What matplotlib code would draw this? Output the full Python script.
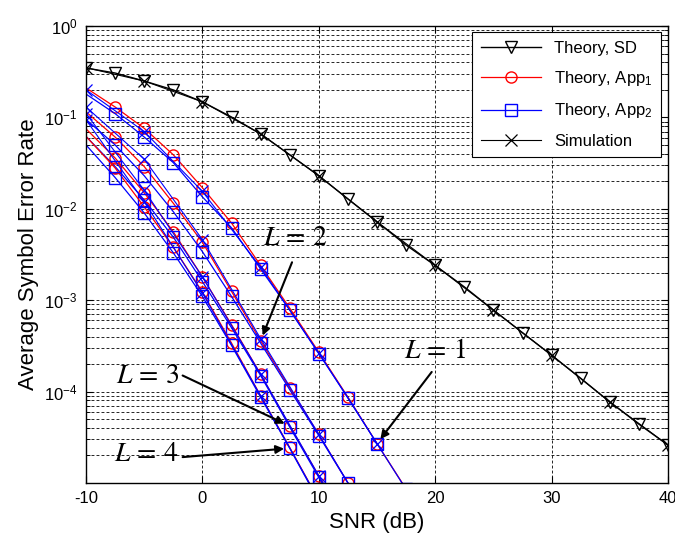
import matplotlib

matplotlib.use("Agg")
import matplotlib.pyplot as plt
import numpy as np

plt.rcParams["font.family"] = ["Liberation Sans", "DejaVu Sans"]
plt.rcParams["mathtext.fontset"] = "custom"
plt.rcParams["mathtext.rm"] = "Liberation Sans"
plt.rcParams["mathtext.it"] = "Liberation Sans:italic"
plt.rcParams["axes.unicode_minus"] = False

# ── data ─────────────────────────────────────────────────────────────────
snr_sd = np.arange(-10, 40.1, 2.5)
ser_sd = [0.347, 0.306, 0.25, 0.2, 0.148, 0.101, 0.066, 0.039, 0.023, 0.0128,
          0.0072, 0.0040, 0.0024, 0.0014, 7.8e-4, 4.4e-4, 2.5e-4, 1.4e-4,
          7.7e-5, 4.4e-5, 2.6e-5]
snr_sd_sim = np.arange(-10, 40.1, 5)
ser_sd_sim = [0.35, 0.25, 0.148, 0.066, 0.023, 0.0072, 0.0024, 7.8e-4,
              2.5e-4, 7.7e-5, 2.6e-5]

snr_l1 = np.arange(-10, 17.6, 2.5)
l1_app1 = [0.21, 0.13, 0.076, 0.039, 0.017, 7.0e-3, 2.4e-3, 8.2e-4, 2.7e-4,
           8.7e-5, 2.7e-5, 8.6e-6]
l1_app2 = [0.18, 0.11, 0.061, 0.032, 0.0135, 6.2e-3, 2.2e-3, 7.8e-4, 2.6e-4,
           8.6e-5, 2.7e-5, 8.5e-6]

snr_l2 = np.arange(-10, 15.1, 2.5)
l2_app1 = [0.115, 0.061, 0.029, 0.0115, 4.3e-3, 1.25e-3, 3.6e-4, 1.1e-4,
           3.4e-5, 1.0e-5, 3.0e-6]
l2_app2 = [0.095, 0.050, 0.023, 9.3e-3, 3.4e-3, 1.1e-3, 3.4e-4, 1.05e-4,
           3.3e-5, 1.0e-5, 3.0e-6]

snr_l34 = np.arange(-10, 12.6, 2.5)
l3_app1 = [0.075, 0.036, 0.015, 5.6e-3, 1.8e-3, 5.4e-4, 1.55e-4, 4.2e-5,
           1.2e-5, 3.3e-6]
l3_app2 = [0.062, 0.029, 0.0125, 4.9e-3, 1.6e-3, 5.0e-4, 1.5e-4, 4.1e-5,
           1.15e-5, 3.2e-6]
l4_app1 = [0.062, 0.028, 0.0105, 3.8e-3, 1.23e-3, 3.4e-4, 9.0e-5, 2.45e-5,
           6.5e-6, 1.7e-6]
l4_app2 = [0.05, 0.022, 0.009, 3.3e-3, 1.1e-3, 3.2e-4, 8.7e-5, 2.4e-5,
           6.3e-6, 1.7e-6]

snr_sim = np.arange(-10, 15.1, 5)
l1_sim = [0.2, 0.07, 0.0155, 2.3e-3, 2.65e-4, 2.7e-5]
l2_sim = [0.13, 0.035, 4.6e-3, 3.8e-4, 3.4e-5, 3.0e-6]
l3_sim = [0.11, 0.016, 1.8e-3, 1.55e-4, 1.2e-5, 1.0e-6]
l4_sim = [0.094, 0.012, 1.2e-3, 9.0e-5, 6.5e-6, 5.0e-7]

ytick_vals = [1e-4, 1e-3, 1e-2, 1e-1, 1]

RED, BLUE = "#ff0000", "#0000ff"

fig = plt.figure(figsize=(6.75, 5.42), dpi=100)
ax = fig.add_axes([86 / 675, 1 - 483 / 542, 582 / 675, 457 / 542])

mk = dict(ms=8, mfc="none", mew=1.0)
ax.plot(snr_sd, ser_sd, "-v", color="k", lw=1.0, label="Theory, SD", **mk)
theory = [(snr_l1, l1_app1, l1_app2), (snr_l2, l2_app1, l2_app2),
          (snr_l34, l3_app1, l3_app2), (snr_l34, l4_app1, l4_app2)]
for i, (s, a1, a2) in enumerate(theory):
    ax.plot(s, a1, "-o", color=RED, lw=0.9, markevery=slice(1, None),
            label="Theory, App$_1$" if i == 0 else None, **mk)
    ax.plot(s, a2, "-s", color=BLUE, lw=0.9, markevery=slice(1, None),
            label="Theory, App$_2$" if i == 0 else None, **mk)
ax.plot(snr_sd_sim, ser_sd_sim, "-x", color="k", lw=0.8, ms=8, mew=0.9,
        label="Simulation")
for sim in (l1_sim, l2_sim, l3_sim, l4_sim):
    ax.plot(snr_sim, sim, "-x", color=BLUE, lw=0.8, ms=8, mew=0.9)

ax.set_yscale("log")
ax.set_xlim(-10, 40)
ax.set_ylim(1e-5, 1)
ax.set_xticks(np.arange(-10, 41, 10))
ax.set_yticks(ytick_vals)
ax.grid(True, which="both", color="k", ls=(0, (3.5, 2.5)), lw=0.6)
ax.tick_params(which="both", direction="in", top=True, right=True,
               labelsize=12, pad=6)
ax.tick_params(which="major", length=5)
ax.tick_params(which="minor", length=3)
for sp in ax.spines.values():
    sp.set_linewidth(1.0)
ax.set_xlabel("SNR (dB)", fontsize=16, labelpad=4)
ax.set_ylabel("Average Symbol Error Rate", fontsize=16, labelpad=4)

leg = ax.legend(loc="upper right", bbox_to_anchor=(0.988, 0.986),
                borderaxespad=0, fontsize=12, handlelength=3.6,
                labelspacing=0.8, borderpad=0.5, fancybox=False,
                framealpha=1, edgecolor="k")
leg.get_frame().set_linewidth(0.8)

arrow = dict(arrowstyle="-|>", color="k", lw=1.5, mutation_scale=12,
             shrinkA=0, shrinkB=4)
txt = dict(fontsize=20, math_fontfamily="stix", ha="center", va="center")
ax.text(8.0, 4.8e-3, r"$L\,=\,2$", **txt)
ax.annotate("", xy=(snr_l2[6], l2_app1[6]), xytext=(7.7, 2.6e-3),
            arrowprops=arrow)
ax.text(20.0, 2.8e-4, r"$L\,=\,1$", **txt)
ax.annotate("", xy=(snr_l1[10], l1_app1[10]), xytext=(19.7, 1.64e-4),
            arrowprops=arrow)
ax.text(-4.7, 1.5e-4, r"$L\,=\,3$", **txt)
ax.annotate("", xy=(snr_l34[7], l3_app1[7]), xytext=(-1.7, 1.5e-4),
            arrowprops=arrow)
ax.text(-4.85, 2.1e-5, r"$L\,=\,4$", **txt)
ax.annotate("", xy=(snr_l34[7], l4_app2[7]), xytext=(-1.7, 1.92e-5),
            arrowprops=arrow)

fig.savefig("out.png", dpi=100)
